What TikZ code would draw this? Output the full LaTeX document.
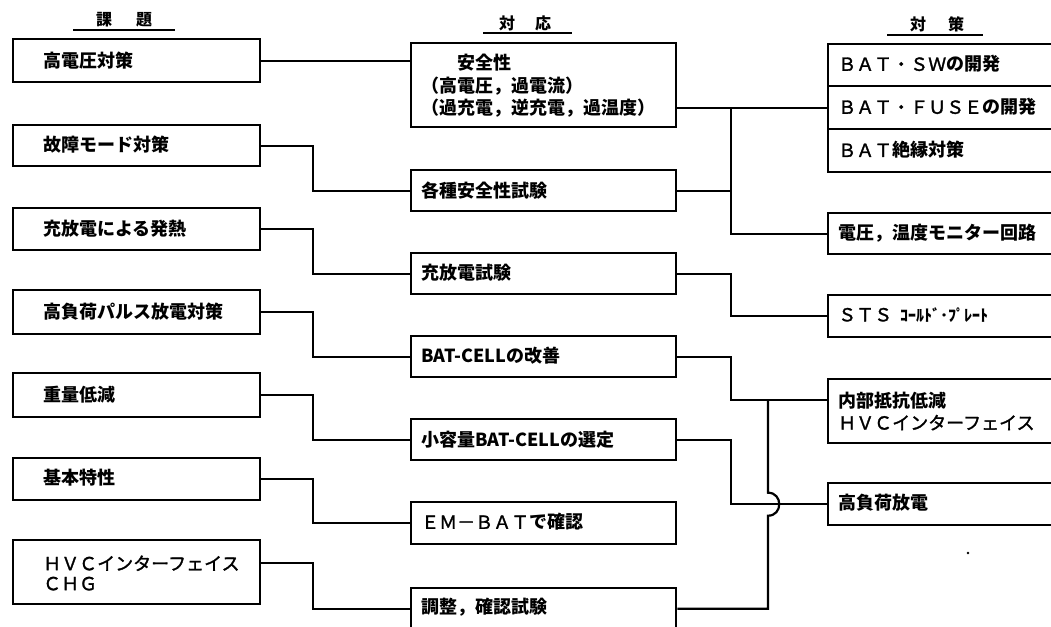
\documentclass[tikz,border=0pt]{standalone}
\usepackage{fontspec}
\setmainfont{Noto Sans CJK JP}
\newfontfamily\jpm{Noto Sans CJK JP}[FakeBold=1.6]
\newcommand{\fw}[1]{{\jpm\mdseries #1}}
\begin{document}
\begin{tikzpicture}[x=1pt,y=-1pt,
  box/.style={draw, line width=2.4pt, inner sep=0pt, anchor=north west},
  lbox/.style={box, minimum width=247pt},
  mbox/.style={box, minimum width=265pt},
  rbox/.style={box, minimum width=260pt},
  txt/.style={anchor=west, inner sep=0pt, align=left, font=\fontsize{18}{22.5}\selectfont\bfseries},
  hdr/.style={anchor=center, inner sep=0pt, font=\fontsize{16}{18}\selectfont\bfseries},
  conn/.style={line width=2.2pt, line join=miter}]
\useasboundingbox (0,0) rectangle (1051,626);
\fill[white] (0,0) rectangle (1051,626);
\clip (0,0) rectangle (1051,626);

% headers
\node[hdr] (H1) at (124,20) {課\hspace{24pt}題};
\node[hdr] (H2) at (525,23) {対\hspace{20pt}応};
\node[hdr] (H3) at (937,24) {対\hspace{22pt}策};
\draw[line width=1.8pt] (73,30) -- (175,30);
\draw[line width=1.8pt] (483,33) -- (572,33);
\draw[line width=1.8pt] (887,35) -- (983,35);

% left column
\node[lbox, minimum height=43pt] (L1) at (12,38) {};
\node[lbox, minimum height=41pt] (L2) at (12,124) {};
\node[lbox, minimum height=42pt] (L3) at (12,207) {};
\node[lbox, minimum height=44pt] (L4) at (12,289) {};
\node[lbox, minimum height=44pt] (L5) at (12,372) {};
\node[lbox, minimum height=42pt] (L6) at (12,457) {};
\node[lbox, minimum height=64pt] (L7) at (12,539) {};
\node[txt] (L1t) at (43,61) {高電圧対策};
\node[txt] (L2t) at (43,145) {故障モード対策};
\node[txt] (L3t) at (43,229) {充放電による発熱};
\node[txt] (L4t) at (43,312) {高負荷パルス放電対策};
\node[txt] (L5t) at (43,395) {重量低減};
\node[txt] (L6t) at (43,478) {基本特性};
\node[txt, font=\fontsize{18}{20}\selectfont\jpm\mdseries] (L7t) at (43,573) {ＨＶＣインターフェイス\\ＣＨＧ};

% middle column
\node[mbox, minimum height=84pt] (M1) at (410,42) {};
\node[mbox, minimum height=41pt] (M2) at (410,169) {};
\node[mbox, minimum height=41pt] (M3) at (410,252) {};
\node[mbox, minimum height=41pt] (M4) at (410,335) {};
\node[mbox, minimum height=41pt] (M5) at (410,418) {};
\node[mbox, minimum height=42pt] (M6) at (410,501) {};
\node[mbox, minimum height=41pt] (M7) at (410,587) {};
\node[txt] (M1t) at (421,86) {　　安全性\\（高電圧，過電流）\\（過充電，逆充電，過温度）};
\node[txt] (M2t) at (421,191) {各種安全性試験};
\node[txt] (M3t) at (421,273) {充放電試験};
\node[txt] (M4t) at (421,356) {BAT-CELLの改善};
\node[txt] (M5t) at (421,440) {小容量BAT-CELLの選定};
\node[txt] (M6t) at (421,522) {\fw{ＥＭ－ＢＡＴ}で確認};
\node[txt] (M7t) at (421,607) {調整，確認試験};

% right column
\node[rbox, minimum height=42pt] (R1) at (827,43) {};
\node[rbox, minimum height=43pt] (R2) at (827,85) {};
\node[rbox, minimum height=43pt] (R3) at (827,128) {};
\node[rbox, minimum height=41pt] (R4) at (827,212) {};
\node[rbox, minimum height=42pt] (R5) at (827,294) {};
\node[rbox, minimum height=64pt] (R6) at (827,378) {};
\node[rbox, minimum height=42pt] (R7) at (827,482) {};
\node[txt] (R1t) at (838,64) {\fw{ＢＡＴ・ＳＷ}の開発};
\node[txt] (R2t) at (838,107) {\fw{ＢＡＴ・ＦＵＳＥ}の開発};
\node[txt] (R3t) at (838,150) {\fw{ＢＡＴ}絶縁対策};
\node[txt] (R4t) at (838,233) {電圧，温度モニター回路};
\node[txt] (R5t) at (838,315) {\fw{ＳＴＳ}\hspace{8pt}{\fontsize{16}{18}\selectfont ｺｰﾙﾄﾞ･ﾌﾟﾚｰﾄ}};
\node[txt] (R6t) at (838,411) {内部抵抗低減\\\fw{ＨＶＣインターフェイス}};
\node[txt] (R7t) at (838,503) {高負荷放電};

% stray dot
\fill (968,553) circle (1.4);

% junction coordinates
\coordinate (jx1) at (313,0);
\coordinate (jx2) at (731,0);
\coordinate (jx3) at (768,0);
\coordinate (L7p) at ([yshift=9pt]L7.east);
\coordinate (R6p) at ([yshift=11pt]R6.west);
\coordinate (hc) at (R7.west -| jx3);

% left -> middle
\draw[conn] (L1.east) -- (L1.east -| M1.west);
\draw[conn] (L2.east) -- (L2.east -| jx1) |- (M2.west);
\draw[conn] (L3.east) -- (L3.east -| jx1) |- (M3.west);
\draw[conn] (L4.east) -- (L4.east -| jx1) |- (M4.west);
\draw[conn] (L5.east) -- (L5.east -| jx1) |- (M5.west);
\draw[conn] (L6.east) -- (L6.east -| jx1) |- (M6.west);
\draw[conn] (L7p) -- (L7p -| jx1) |- (M7.west);

% middle -> right
\draw[conn] (R2.west -| M1.east) -- (R2.west);
\draw[conn] (R2.west -| jx2) |- (R4.west);
\draw[conn] (M2.east) -- (M2.east -| jx2);
\draw[conn] (M3.east) -- (M3.east -| jx2) |- (R5.west);
\draw[conn] (M4.east) -- (M4.east -| jx2) |- (R6p);
\draw[conn] (M5.east) -- (M5.east -| jx2) |- (R7.west);
\draw[conn] (M7.east) -- (M7.east -| jx3) -- ([yshift=-11.5pt]hc)
  .. controls ([xshift=15pt,yshift=-11.5pt]hc) and ([xshift=15pt,yshift=11.5pt]hc) .. ([yshift=11.5pt]hc)
  -- (R6p -| jx3);
\end{tikzpicture}
\end{document}
